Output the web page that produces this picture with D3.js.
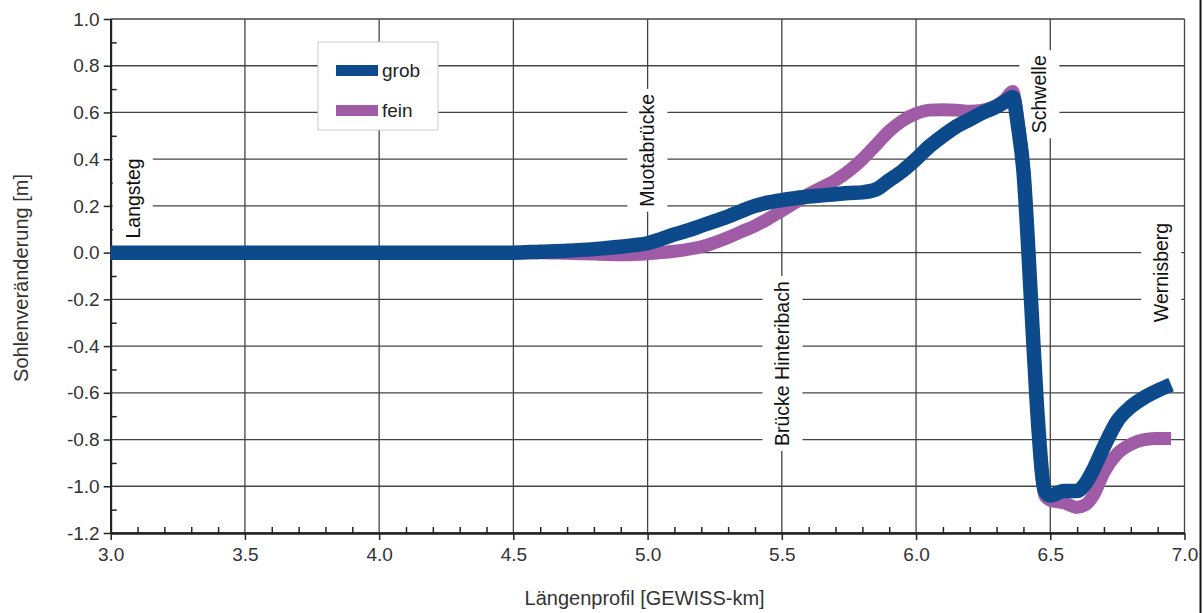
<!DOCTYPE html>
<html>
<head>
<meta charset="utf-8">
<script src="https://cdn.jsdelivr.net/npm/d3@7"></script>
<style>
    body { margin: 0; background: #fff; }
    text { font-family: "Liberation Sans", Arial, sans-serif; }
</style>
</head>
<body>
<svg id="chart" width="1203" height="613"></svg>
<script>

// Längenprofil in GEWISS-km
var km = [3.0, 3.1, 3.2, 3.3, 3.4, 3.5, 3.6, 3.7, 3.8, 3.9, 4.0, 4.1, 4.2, 4.3, 4.4, 4.5,
    4.6, 4.7, 4.8,
    4.85, 4.9, 4.95, 5.0, 5.05, 5.1, 5.15, 5.2, 5.25, 5.3, 5.35, 5.4, 5.45, 5.5, 5.55, 5.6,
    5.65, 5.7, 5.75, 5.8, 5.85, 5.9, 5.95, 6.0, 6.05, 6.1, 6.15, 6.2, 6.25, 6.3,
    6.33, 6.36, 6.38, 6.40, 6.43, 6.45, 6.48, 6.50,
    6.55, 6.6, 6.63, 6.66, 6.7, 6.75, 6.8, 6.85, 6.9, 6.95];

// Sohlenveränderung [m]
var grob = [0, 0, 0, 0, 0, 0, 0, 0, 0, 0, 0, 0, 0, 0, 0, 0,
    0.004, 0.008, 0.015,
    0.02, 0.025, 0.032, 0.04, 0.058, 0.078, 0.095, 0.115, 0.135, 0.155, 0.178, 0.2, 0.215, 0.225, 0.233, 0.24,
    0.245, 0.25, 0.255, 0.258, 0.27, 0.31, 0.35, 0.4, 0.455, 0.5, 0.54, 0.57, 0.6, 0.625,
    0.645, 0.665, 0.54, 0.35, -0.24, -0.65, -1.02, -1.04,
    -1.02, -1.02, -0.99, -0.93, -0.83, -0.72, -0.66, -0.62, -0.59, -0.565];

var fein = [0, 0, 0, 0, 0, 0, 0, 0, 0, 0, 0, 0, 0, 0, 0, 0,
    0, -0.003, -0.006,
    -0.008, -0.009, -0.008, -0.005, 0, 0.006, 0.014, 0.025, 0.043, 0.065, 0.09, 0.115, 0.145, 0.18, 0.215, 0.25,
    0.28, 0.31, 0.35, 0.4, 0.46, 0.52, 0.565, 0.595, 0.61, 0.612, 0.61, 0.605, 0.61, 0.63,
    0.655, 0.69, 0.56, 0.36, -0.24, -0.66, -1.04, -1.06,
    -1.07, -1.09, -1.08, -1.04, -0.94, -0.86, -0.82, -0.8, -0.795, -0.795];

var xTicks = [3.0, 3.5, 4.0, 4.5, 5.0, 5.5, 6.0, 6.5, 7.0];
var yTicks = [-1.2, -1.0, -0.8, -0.6, -0.4, -0.2, 0.0, 0.2, 0.4, 0.6, 0.8, 1.0];

// Beschriftungen an der Strecke
var labelText = ["Langsteg", "Muotabrücke", "Brücke Hinteribach", "Schwelle", "Wernisberg"];
var labelKm = [3.083, 5.0, 5.503, 6.46, 6.914];
var labelVal = [0.232, 0.438, -0.475, 0.678, -0.085];

var seriesNames = ["grob", "fein"];
var seriesColors = {grob: "#0c4a8b", fein: "#a05ba7"};

var svg = d3.select("#chart");

var x = d3.scaleLinear().domain([3, 7]).range([110.7, 1184.5]);
var y = d3.scaleLinear().domain([-1.2, 1.0]).range([533, 19]);

var gridColor = "#444";

// Bindestrich statt Minuszeichen wie im Original
var fmt = function (d) { return d3.format(".1f")(d).replace("\u2212", "-"); };

// Gitter
svg.append("g").selectAll("line").data(yTicks).enter().append("line")
    .attr("x1", x(3)).attr("x2", x(7))
    .attr("y1", function (d) { return y(d); })
    .attr("y2", function (d) { return y(d); })
    .attr("stroke", gridColor).attr("stroke-width", 1.3);

svg.append("g").selectAll("line").data(xTicks).enter().append("line")
    .attr("x1", function (d) { return x(d); })
    .attr("x2", function (d) { return x(d); })
    .attr("y1", y(1.0)).attr("y2", y(-1.2))
    .attr("stroke", gridColor).attr("stroke-width", 1.3);

// Achsen
var xAxis = d3.axisBottom(x).tickValues(xTicks).tickFormat(fmt)
    .tickSizeInner(7).tickSizeOuter(0).tickPadding(8);
svg.append("g").attr("transform", "translate(0," + y(-1.2) + ")").call(xAxis);

var xMinor = d3.range(3.1, 7, 0.1).filter(function (d) { return Math.abs(d * 2 - Math.round(d * 2)) > 0.01; });
svg.append("g").attr("transform", "translate(0," + y(-1.2) + ")")
    .call(d3.axisBottom(x).tickValues(xMinor).tickSizeInner(-6).tickSizeOuter(0).tickFormat(""));

var yAxis = d3.axisLeft(y).tickValues(yTicks).tickFormat(fmt)
    .tickSizeInner(7).tickSizeOuter(0).tickPadding(4);
svg.append("g").attr("transform", "translate(" + x(3) + ",0)").call(yAxis);

var yMinor = d3.range(-1.1, 1.0, 0.2);
svg.append("g").attr("transform", "translate(" + x(3) + ",0)")
    .call(d3.axisLeft(y).tickValues(yMinor).tickSizeInner(-6).tickSizeOuter(0).tickFormat(""));

svg.selectAll(".domain").attr("stroke", "#222").attr("stroke-width", 1.8);
svg.selectAll(".tick line").attr("stroke", "#222").attr("stroke-width", 1.5);
svg.selectAll(".tick text").attr("fill", "#333").style("font-size", "19px")
    .style("font-family", '"Liberation Sans", Arial, sans-serif');

// Achsentitel
svg.append("text")
    .attr("x", (x(3) + x(7)) / 2 - 3)
    .attr("y", 605)
    .attr("text-anchor", "middle")
    .attr("fill", "#333")
    .style("font-size", "20px")
    .text("Längenprofil [GEWISS-km]");

svg.append("text")
    .attr("transform", "translate(28," + ((y(1.0) + y(-1.2)) / 2 + 2) + ") rotate(-90)")
    .attr("text-anchor", "middle")
    .attr("fill", "#333")
    .style("font-size", "20px")
    .text("Sohlenveränderung [m]");

// Beschriftungen mit weissem Hintergrund
var labels = svg.append("g").selectAll("g").data(labelText).enter().append("g")
    .attr("transform", function (d, i) {
        return "translate(" + x(labelKm[i]) + "," + y(labelVal[i]) + ") rotate(-90)";
    });

labels.append("text")
    .attr("text-anchor", "middle")
    .attr("dy", "0.35em")
    .attr("fill", "#111")
    .style("font-size", "19.5px")
    .text(function (d) { return d; });

labels.each(function () {
    var g = d3.select(this);
    var bb = g.select("text").node().getBBox();
    g.insert("rect", "text")
        .attr("x", bb.x - 5).attr("y", bb.y - 9)
        .attr("width", bb.width + 10).attr("height", bb.height + 18)
        .attr("fill", "#fff");
});

// Linien
var line = d3.line()
    .x(function (d) { return x(d[0]); })
    .y(function (d) { return y(d[1]); })
    .curve(d3.curveMonotoneX);

var values = {grob: grob, fein: fein};

["fein", "grob"].forEach(function (name) {
    svg.append("path")
        .attr("d", line(km.map(function (k, i) { return [k, values[name][i]]; })))
        .attr("fill", "none")
        .attr("stroke", seriesColors[name])
        .attr("stroke-width", name === "grob" ? 14.5 : 13)
        .attr("stroke-linejoin", "round")
        .attr("stroke-linecap", "butt");
});

// Legende
var legend = svg.append("g").attr("transform", "translate(318,42)");
legend.append("rect")
    .attr("width", 120).attr("height", 88)
    .attr("fill", "#fff").attr("stroke", "#ccc").attr("stroke-width", 1);

seriesNames.forEach(function (name, i) {
    legend.append("rect")
        .attr("x", 18).attr("y", 23 + i * 40)
        .attr("width", 42).attr("height", 11)
        .attr("fill", seriesColors[name]);
    legend.append("text")
        .attr("x", 64).attr("y", 35 + i * 40)
        .attr("fill", "#222")
        .style("font-size", "19px")
        .text(name);
});

// Rahmenlinie rechts
svg.append("line")
    .attr("x1", 1200.5).attr("x2", 1200.5)
    .attr("y1", 0).attr("y2", 613)
    .attr("stroke", "#111").attr("stroke-width", 2);

</script>
</body>
</html>
